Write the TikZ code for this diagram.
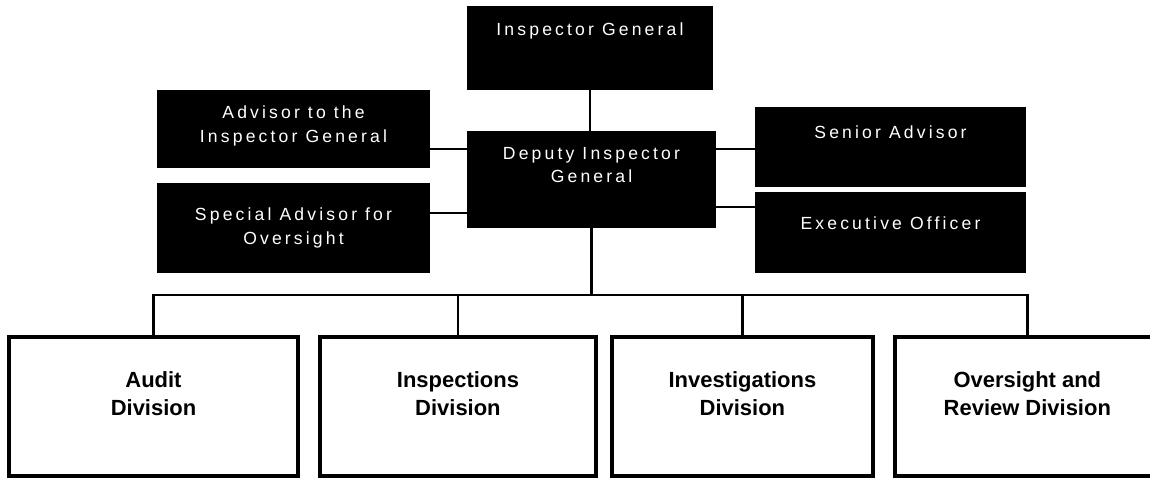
\documentclass[tikz,border=0pt]{standalone}
\usepackage{fontspec}
\setmainfont{Liberation Sans}
\newfontfamily\headfont[LetterSpace=18]{Liberation Sans}
\usetikzlibrary{positioning}

\tikzset{
	office/.style={fill=black, inner sep=0pt, outer sep=0pt},
	officetext/.style={text=white, align=center, font=\headfont\fontsize{10}{13.6}\selectfont},
	division/.style={draw, line width=2pt, inner sep=0pt, outer sep=0pt, minimum height=2.78cm},
	divisiontext/.style={align=center, font=\bfseries\fontsize{12.5}{16}\selectfont},
	link/.style={line width=1.4pt},
}

\begin{document}
\begin{tikzpicture}[x=0.02cm, y=-0.02cm]
	\useasboundingbox (0,0) rectangle (1150,478);
	\clip (0,0) rectangle (1150,478);

	% front office
	\node[office, minimum width=4.92cm, minimum height=1.68cm,
		label={[officetext, yshift=0.34cm]center:Inspector General}] (ig) at (590,48) {};
	\node[office, minimum width=4.98cm, minimum height=1.94cm,
		label={[officetext, yshift=0.29cm]center:Deputy Inspector\\General}] (dep) at (591.5,179.5) {};
	\node[office, minimum width=5.46cm, minimum height=1.56cm,
		label={[officetext, yshift=0.06cm]center:Advisor to the\\Inspector General}] (adv) at (293.5,129) {};
	\node[office, below=0.3cm of adv, minimum width=5.46cm, minimum height=1.8cm,
		label={[officetext]center:Special Advisor for\\Oversight}] (spc) {};
	\node[office, minimum width=5.42cm, minimum height=1.6cm,
		label={[officetext, yshift=0.3cm]center:Senior Advisor}] (sen) at (890.5,147) {};
	\node[office, below=0.1cm of sen, minimum width=5.42cm, minimum height=1.62cm,
		label={[officetext, yshift=0.19cm]center:Executive Officer}] (exe) {};

	% divisions
	\node[division, minimum width=5.78cm,
		label={[divisiontext, yshift=0.25cm]center:Audit\\Division}] (aud) at (153.5,406.5) {};
	\node[division, right=0.44cm of aud, minimum width=5.52cm,
		label={[divisiontext, yshift=0.25cm]center:Inspections\\Division}] (ins) {};
	\node[division, right=0.32cm of ins, minimum width=5.22cm,
		label={[divisiontext, yshift=0.25cm]center:Investigations\\Division}] (inv) {};
	\node[division, right=0.44cm of inv, minimum width=5.3cm,
		label={[divisiontext, yshift=0.25cm]center:Oversight and\\Review Division}] (ovr) {};

	\coordinate (upper) at (0,149);
	\coordinate (lowleft) at (0,213);
	\coordinate (lowright) at (0,207);
	\coordinate (bus) at (591.5,295);

	\draw[link]
		(ig.south) -- (ig.south |- dep.north)
		(adv.east |- upper) -- (dep.west |- upper)
		(spc.east |- lowleft) -- (dep.west |- lowleft)
		(dep.east |- upper) -- (sen.west |- upper)
		(dep.east |- lowright) -- (exe.west |- lowright)

		(dep.south) -- (bus)
		(aud.north) |- (bus) -| (ovr.north)
		(ins.north) -- (ins.north |- bus)
		(inv.north) -- (inv.north |- bus)
		;
\end{tikzpicture}
\end{document}
